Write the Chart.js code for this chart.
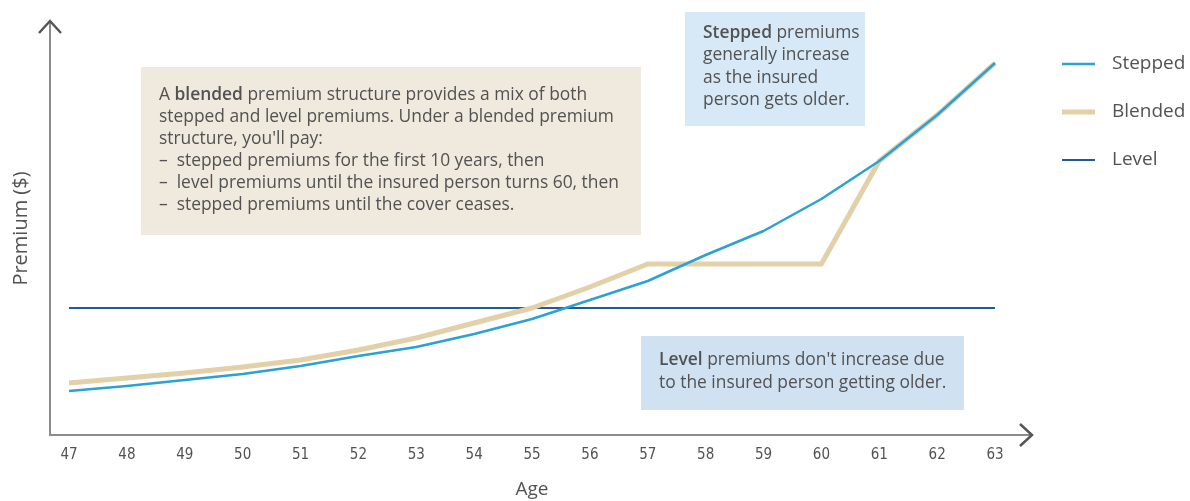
<!DOCTYPE html>
<html>
<head>
<meta charset="utf-8">
<script src="https://cdn.jsdelivr.net/npm/chart.js@4.4.1/dist/chart.umd.min.js"></script>
<style>
  html, body { margin: 0; background: #fff; }
  #wrap { width: 1190px; height: 501px; }
</style>
</head>
<body>
<div id="wrap"><canvas id="premiumChart"></canvas></div>
<script>
// Ages along the bottom
const ages = ['47', '48', '49', '50', '51', '52', '53', '54', '55', '56', '57', '58', '59', '60', '61', '62', '63'];

// Premium ($) per age for each structure
const stepped = [440, 490, 550, 610, 690, 790, 880, 1010, 1160, 1350, 1540, 1800, 2040, 2360, 2740, 3200, 3720];
const blended = [520, 570, 620, 680, 750, 850, 970, 1120, 1270, 1480, 1710, 1710, 1710, 1710, 2740, 3200, 3720];
const level   = [1270, 1270, 1270, 1270, 1270, 1270, 1270, 1270, 1270, 1270, 1270, 1270, 1270, 1270, 1270, 1270, 1270];

const TEXT = '#525252';
const FONT = '"Open Sans"';

// callout boxes: each line is a list of [text, bold]
const notes = [
  { x: 141, y: 67, w: 500, h: 168, fill: '#efe9de', tx: 159, ty: 95, lh: 22, lines: [
    [['A ', 0], ['blended', 1], [' premium structure provides a mix of both', 0]],
    [['stepped and level premiums. Under a blended premium', 0]],
    [['structure, you\'ll pay:', 0]],
    [['\u2013  stepped premiums for the first 10 years, then', 0]],
    [['\u2013  level premiums until the insured person turns 60, then', 0]],
    [['\u2013  stepped premiums until the cover ceases.', 0]]
  ]},
  { x: 685, y: 12, w: 180, h: 114, fill: '#d7e8f7', tx: 703, ty: 33, lh: 22.3, lines: [
    [['Stepped', 1], [' premiums', 0]],
    [['generally increase', 0]],
    [['as the insured', 0]],
    [['person gets older.', 0]]
  ]},
  { x: 641, y: 336, w: 323, h: 74, fill: '#d0e1f2', tx: 659, ty: 360, lh: 23, lines: [
    [['Level', 1], [' premiums don\'t increase due', 0]],
    [['to the insured person getting older.', 0]]
  ]}
];

const calloutPlugin = {
  id: 'callouts',
  beforeDatasetsDraw(chart) {
    const ctx = chart.ctx;
    ctx.save();
    notes.forEach(n => {
      ctx.fillStyle = n.fill;
      ctx.fillRect(n.x, n.y, n.w, n.h);
      ctx.fillStyle = TEXT;
      ctx.textBaseline = 'middle';
      n.lines.forEach((line, i) => {
        let x = n.tx;
        line.forEach(([t, b]) => {
          ctx.font = (b ? '600 ' : '') + '17.4px ' + FONT;
          ctx.fillText(t, x, n.ty + i * n.lh);
          x += ctx.measureText(t).width;
        });
      });
    });
    ctx.restore();
  }
};

// axis lines with open arrow heads
const axesPlugin = {
  id: 'arrowAxes',
  afterDraw(chart) {
    const ctx = chart.ctx;
    const a = chart.chartArea;
    const x0 = a.left - 19, y0 = a.bottom;
    ctx.save();
    ctx.strokeStyle = '#8c8c8c';
    ctx.lineWidth = 2;
    ctx.beginPath();
    ctx.moveTo(x0, 22);
    ctx.lineTo(x0, y0);
    ctx.lineTo(1031, y0);
    ctx.stroke();
    ctx.strokeStyle = '#555';
    ctx.lineWidth = 2.5;
    ctx.beginPath();
    ctx.moveTo(x0 - 11, 33);
    ctx.lineTo(x0, 21);
    ctx.lineTo(x0 + 11, 33);
    ctx.moveTo(1020, y0 - 11);
    ctx.lineTo(1032, y0);
    ctx.lineTo(1020, y0 + 11);
    ctx.stroke();
    ctx.restore();
  }
};

const legendPlugin = {
  id: 'sideLegend',
  afterDraw(chart) {
    const ctx = chart.ctx;
    ctx.save();
    ctx.font = '19px ' + FONT;
    ctx.textBaseline = 'middle';
    chart.data.datasets.forEach((ds, i) => {
      const y = 64 + i * 48;
      ctx.strokeStyle = ds.borderColor;
      ctx.lineWidth = ds.borderWidth;
      ctx.beginPath();
      ctx.moveTo(1062, y);
      ctx.lineTo(1095, y);
      ctx.stroke();
      ctx.fillStyle = TEXT;
      ctx.fillText(ds.label, 1112, y);
    });
    ctx.restore();
  }
};

const ctx = document.getElementById('premiumChart').getContext('2d');

new Chart(ctx, {
  type: 'line',
  data: {
    labels: ages,
    datasets: [
      { label: 'Stepped', data: stepped, borderColor: '#2aa2d2', borderWidth: 2.5 },
      { label: 'Blended', data: blended, borderColor: '#e1d0a8', borderWidth: 5 },
      { label: 'Level', data: level, borderColor: '#1f5a94', borderWidth: 2 }
    ]
  },
  options: {
    responsive: true,
    maintainAspectRatio: false,
    animation: false,
    layout: { padding: { left: 0, right: 195, top: 22, bottom: 0 } },
    elements: {
      point: { radius: 0 },
      line: { tension: 0, borderJoinStyle: 'round', borderCapStyle: 'butt' }
    },
    plugins: {
      legend: { display: false },
      tooltip: { enabled: false }
    },
    scales: {
      x: {
        offset: false,
        grid: { display: false, drawTicks: false },
        border: { display: false },
        ticks: { color: TEXT, padding: 11, maxRotation: 0, autoSkip: false,
                  font: { family: '"DejaVu Sans Condensed", "Liberation Sans Narrow", Roboto, sans-serif', size: 15 } },
        title: { display: true, text: 'Age', color: TEXT, padding: 0,
                 font: { family: FONT, size: 19 } },
        afterFit(s) { s.height = 66; }
      },
      y: {
        min: 0,
        max: 4130,
        grid: { display: false, drawTicks: false },
        border: { display: false },
        ticks: { display: false },
        title: { display: true, text: 'Premium ($)', color: TEXT, padding: { top: 9, bottom: 0 },
                 font: { family: FONT, size: 20 } },
        afterFit(s) { s.width = 69; }
      }
    }
  },
  plugins: [calloutPlugin, axesPlugin, legendPlugin]
});
</script>
</body>
</html>
